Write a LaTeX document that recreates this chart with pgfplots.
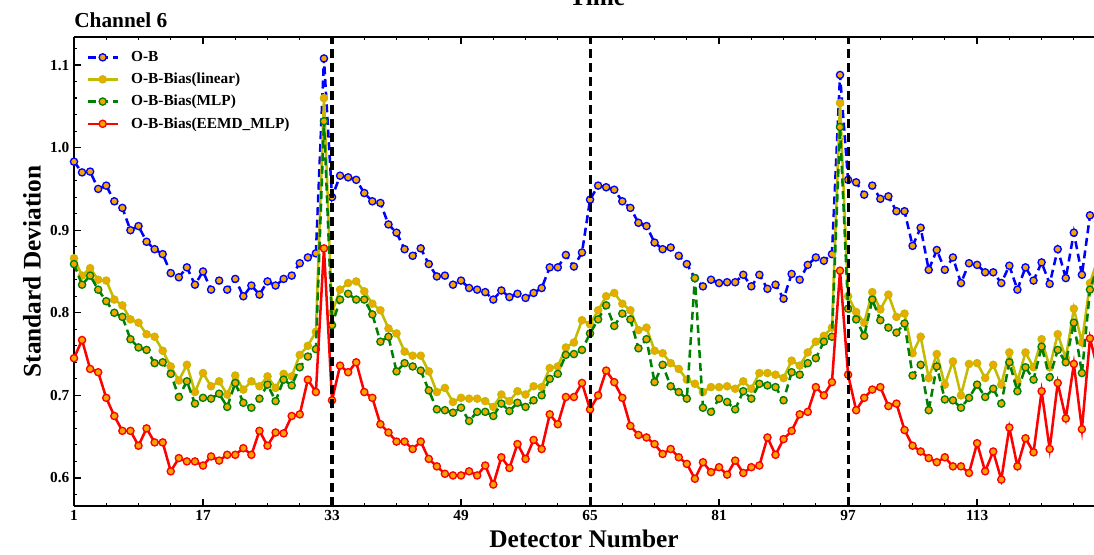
\documentclass[border=0pt]{standalone}
\usepackage{pgfplots}
\pgfplotsset{compat=1.18}
\usepackage{pgfplotstable}
\usepackage{fontspec}
\setmainfont{Liberation Serif}
\usetikzlibrary{calc}
\definecolor{obblue}{RGB}{0,0,255}
\definecolor{linyel}{RGB}{196,186,0}
\definecolor{mlpgreen}{RGB}{0,128,0}
\definecolor{eemdred}{RGB}{255,0,0}
\definecolor{mkfill}{RGB}{245,165,0}

\pgfplotstableread{
x ob lin mlp eemd
1 0.983 0.866 0.859 0.745
2 0.970 0.845 0.834 0.767
3 0.971 0.854 0.845 0.732
4 0.950 0.840 0.828 0.728
5 0.954 0.839 0.814 0.697
6 0.935 0.816 0.800 0.675
7 0.927 0.809 0.795 0.657
8 0.900 0.792 0.768 0.657
9 0.905 0.788 0.758 0.639
10 0.886 0.774 0.755 0.660
11 0.877 0.771 0.739 0.643
12 0.871 0.754 0.740 0.643
13 0.848 0.735 0.726 0.608
14 0.843 0.718 0.698 0.624
15 0.855 0.737 0.717 0.620
16 0.834 0.704 0.690 0.620
17 0.850 0.727 0.697 0.615
18 0.828 0.711 0.696 0.626
19 0.839 0.717 0.702 0.621
20 0.828 0.701 0.686 0.628
21 0.841 0.724 0.715 0.628
22 0.820 0.707 0.691 0.636
23 0.833 0.717 0.685 0.628
24 0.822 0.711 0.696 0.657
25 0.838 0.723 0.713 0.639
26 0.833 0.709 0.693 0.655
27 0.841 0.726 0.719 0.654
28 0.845 0.723 0.712 0.675
29 0.860 0.749 0.734 0.677
30 0.867 0.760 0.747 0.719
31 0.872 0.777 0.756 0.704
32 1.108 1.060 1.032 0.878
33 0.940 0.800 0.785 0.694
34 0.966 0.828 0.816 0.736
35 0.964 0.836 0.823 0.728
36 0.961 0.838 0.816 0.740
37 0.945 0.826 0.816 0.704
38 0.935 0.811 0.798 0.697
39 0.933 0.803 0.765 0.665
40 0.907 0.781 0.771 0.655
41 0.897 0.775 0.729 0.644
42 0.877 0.753 0.739 0.644
43 0.869 0.748 0.735 0.635
44 0.878 0.748 0.730 0.644
45 0.859 0.729 0.706 0.623
46 0.844 0.704 0.683 0.614
47 0.845 0.709 0.682 0.605
48 0.834 0.692 0.679 0.603
49 0.839 0.697 0.685 0.603
50 0.830 0.696 0.669 0.608
51 0.828 0.696 0.680 0.603
52 0.825 0.693 0.680 0.615
53 0.816 0.686 0.675 0.592
54 0.827 0.701 0.690 0.625
55 0.819 0.693 0.681 0.612
56 0.823 0.705 0.691 0.641
57 0.818 0.701 0.686 0.623
58 0.824 0.711 0.694 0.646
59 0.830 0.710 0.700 0.635
60 0.855 0.733 0.720 0.677
61 0.855 0.735 0.726 0.665
62 0.870 0.758 0.749 0.698
63 0.856 0.764 0.750 0.698
64 0.873 0.791 0.755 0.715
65 0.937 0.786 0.775 0.683
66 0.954 0.803 0.792 0.700
67 0.952 0.820 0.809 0.730
68 0.949 0.824 0.784 0.716
69 0.935 0.811 0.799 0.697
70 0.927 0.803 0.792 0.663
71 0.909 0.779 0.757 0.652
72 0.905 0.782 0.768 0.649
73 0.885 0.754 0.716 0.641
74 0.877 0.751 0.737 0.629
75 0.879 0.739 0.711 0.635
76 0.869 0.732 0.704 0.625
77 0.859 0.719 0.696 0.617
78 0.842 0.714 0.842 0.599
79 0.832 0.704 0.685 0.619
80 0.840 0.710 0.680 0.607
81 0.836 0.710 0.696 0.613
82 0.837 0.711 0.692 0.604
83 0.837 0.708 0.683 0.621
84 0.846 0.717 0.705 0.606
85 0.832 0.708 0.696 0.613
86 0.846 0.727 0.714 0.615
87 0.829 0.727 0.712 0.649
88 0.834 0.725 0.710 0.628
89 0.817 0.721 0.694 0.647
90 0.847 0.742 0.728 0.657
91 0.840 0.736 0.725 0.677
92 0.858 0.752 0.739 0.680
93 0.867 0.765 0.745 0.710
94 0.863 0.772 0.765 0.700
95 0.871 0.782 0.771 0.716
96 1.088 1.054 1.025 0.851
97 0.961 0.820 0.805 0.725
98 0.958 0.801 0.792 0.682
99 0.943 0.788 0.772 0.697
100 0.954 0.825 0.816 0.707
101 0.938 0.804 0.791 0.710
102 0.941 0.822 0.782 0.687
103 0.923 0.795 0.776 0.690
104 0.923 0.799 0.787 0.658
105 0.881 0.751 0.724 0.639
106 0.903 0.771 0.737 0.632
107 0.852 0.721 0.682 0.624
108 0.876 0.750 0.735 0.619
109 0.852 0.713 0.695 0.625
110 0.867 0.741 0.694 0.614
111 0.836 0.700 0.685 0.614
112 0.860 0.738 0.697 0.606
113 0.858 0.739 0.713 0.642
114 0.849 0.721 0.698 0.608
115 0.849 0.737 0.708 0.632
116 0.836 0.713 0.690 0.598
117 0.857 0.752 0.740 0.661
118 0.828 0.717 0.705 0.614
119 0.855 0.752 0.734 0.648
120 0.839 0.734 0.719 0.631
121 0.861 0.768 0.759 0.705
122 0.835 0.734 0.722 0.635
123 0.877 0.774 0.755 0.715
124 0.842 0.745 0.740 0.672
125 0.897 0.805 0.788 0.738
126 0.846 0.764 0.727 0.659
127 0.918 0.836 0.828 0.769
128 0.906 0.866 0.858 0.730
}\data

\begin{document}
\begin{tikzpicture}
\begin{axis}[
  scale only axis, width=765pt, height=351.75pt,
  xmin=1, xmax=127.5, ymin=0.566, ymax=1.134,
  axis x line=box, axis y line=left,
  axis line style={-, line width=1.8pt, black},
  clip mode=individual,
  xtick={1,17,33,49,65,81,97,113},
  minor xtick={5,9,13,21,25,29,37,41,45,53,57,61,69,73,77,85,89,93,101,105,109,117,121,125},
  ytick={0.6,0.7,0.8,0.9,1.0,1.1},
  yticklabels={0.6,0.7,0.8,0.9,1.0,1.1},
  minor ytick={0.58,0.62,0.64,0.66,0.68,0.72,0.74,0.76,0.78,0.82,0.84,0.86,0.88,0.92,0.94,0.96,0.98,1.02,1.04,1.06,1.08,1.12},
  tick align=inside,
  major tick length=5pt, minor tick length=2.5pt,
  every tick/.style={black, line width=0.9pt},
  /pgf/number format/assume math mode=true,
  tick label style={font=\fontsize{11.5}{13}\selectfont\bfseries},
  xlabel={Detector Number}, ylabel={Standard Deviation},
  label style={font=\fontsize{19}{21}\selectfont\bfseries},
  legend style={at={(0,1)}, anchor=north west, draw=none, fill=none,
    font=\fontsize{11.5}{13}\selectfont\bfseries, row sep=3.2pt,
    xshift=6pt, yshift=-6.5pt,
    /tikz/every odd column/.append style={column sep=7pt}},
  legend cell align=left,
  legend image code/.code={\draw[mark repeat=2,mark phase=2,#1] plot coordinates {(0cm,0cm) (0.4cm,0cm) (0.8cm,0cm)};},
  mark size=2.7pt,
]
\addplot[obblue, line width=1.9pt, dash pattern=on 6pt off 3.5pt, mark=*, mark options={solid, fill=mkfill, draw=obblue, line width=1pt}] table[x=x,y=ob]{\data};
\addlegendentry{O-B}
\addplot[linyel, line width=1.9pt, mark=*, mark options={solid, fill=mkfill, draw=linyel, line width=1pt}] table[x=x,y=lin]{\data};
\addlegendentry{O-B-Bias(linear)}
\addplot[mlpgreen, line width=1.9pt, dash pattern=on 6pt off 3.5pt, mark=*, mark options={solid, fill=mkfill, draw=mlpgreen, line width=1pt}] table[x=x,y=mlp]{\data};
\addlegendentry{O-B-Bias(MLP)}
\addplot[eemdred, line width=1.9pt, mark=*, mark options={solid, fill=mkfill, draw=eemdred, line width=1pt}] table[x=x,y=eemd]{\data};
\addlegendentry{O-B-Bias(EEMD\_MLP)}
\addplot[black, line width=2.3pt, dash pattern=on 7pt off 3.5pt, forget plot] coordinates {(33,0.566) (33,1.134)};
\addplot[black, line width=2.3pt, dash pattern=on 7pt off 3.5pt, forget plot] coordinates {(65,0.566) (65,1.134)};
\addplot[black, line width=2.3pt, dash pattern=on 7pt off 3.5pt, forget plot] coordinates {(97,0.566) (97,1.134)};
\node[anchor=base west, inner sep=0pt, font=\fontsize{16}{18}\selectfont\bfseries, yshift=6.75pt] at (rel axis cs:0,1) {Channel 6};
\node[anchor=base, font=\fontsize{19}{21}\selectfont\bfseries, yshift=23.5pt] at (axis cs:65.9,1.134) {Time};
\coordinate (BL) at (rel axis cs:0,0);
\coordinate (TR) at (rel axis cs:1,1);
\end{axis}
\pgfresetboundingbox
\path[use as bounding box] ($(BL)+(-55.5pt,-36.75pt)$) rectangle ($(TR)+(0pt,27.75pt)$);
\end{tikzpicture}
\end{document}
